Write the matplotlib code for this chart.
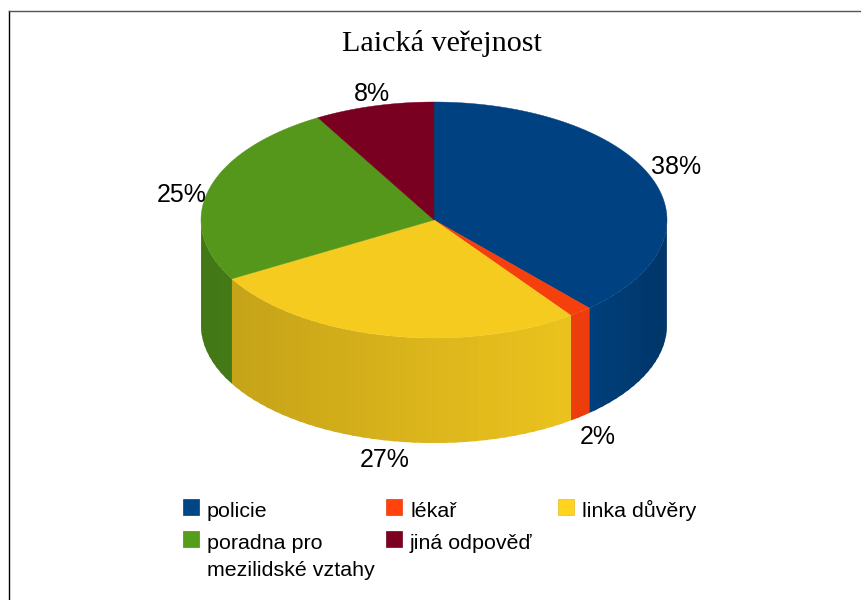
import numpy as np
import matplotlib
matplotlib.use('Agg')
import matplotlib.pyplot as plt
from matplotlib.patches import Rectangle

title = 'Laická veřejnost'
categories = ['policie', 'lékař', 'linka důvěry', 'poradna pro\nmezilidské vztahy', 'jiná odpověď']
values = [38.4, 1.6, 26.7, 25.0, 8.3]
percent_labels = ['38%', '2%', '27%', '25%', '8%']
colors = ['#004586', '#ff420e', '#ffd320', '#579d1c', '#7e0021']

# layout, in pixels of the picture
cx, cy = 434, 220
rx, ry = 233, 118
depth = 105
label_pos = [(676, 167), (598, 437), (385, 460), (182, 195), (372, 94)]
legend_pos = [(183, 499), (386, 499), (558, 499), (183, 531), (386, 531)]
legend_line_step = 27


def darker(color, k):
    r, g, b = matplotlib.colors.to_rgb(color)
    return (r * k, g * k, b * k)


def side_shade(a):
    # a is the clockwise angle from the top, the side is lightest near the front right
    x = np.sin(a)
    if x > 0.65:
        return 0.93 - (x - 0.65) / 0.35 * 0.15
    return 0.93 - (0.65 - x) / 1.65 * 0.17


fig = plt.figure(figsize=(8.61, 6.0), dpi=100)
ax = fig.add_axes([0, 0, 1, 1])
ax.set_xlim(0, 861)
ax.set_ylim(600, 0)
ax.axis('off')

# border of the chart, only top and left are in the picture
ax.plot([8.5, 8.5], [600, 10.5], color='black', lw=1, zorder=1)
ax.plot([8.5, 861], [10.5, 10.5], color='#555555', lw=1, zorder=1)

edges = np.cumsum([0] + values) / sum(values) * 2 * np.pi

# side of the cake, in thin strips for the shading
for i in range(len(values)):
    start = max(edges[i], np.pi / 2)
    stop = min(edges[i + 1], 3 * np.pi / 2)
    if stop <= start:
        continue
    n = max(int((stop - start) / np.radians(2.5)), 1)
    steps = np.linspace(start, stop, n + 1)
    for a0, a1 in zip(steps[:-1], steps[1:]):
        # each strip runs a little under the next one, so no seams show
        t = np.linspace(a0, min(a1 + np.radians(1), stop), 6)
        xs = cx + rx * np.sin(t)
        ys = cy - ry * np.cos(t)
        c = darker(colors[i], side_shade((a0 + a1) / 2))
        ax.fill(np.r_[xs, xs[::-1]], np.r_[ys, ys[::-1] + depth],
                facecolor=c, edgecolor='none', zorder=2)

# top of the cake
for i in range(len(values)):
    t = np.linspace(edges[i], edges[i + 1], 200)
    xs = np.r_[cx, cx + rx * np.sin(t)]
    ys = np.r_[cy, cy - ry * np.cos(t)]
    c = darker(colors[i], 0.96)
    ax.fill(xs, ys, facecolor=c, edgecolor=c, lw=0.3, zorder=3)

for lab, (x, y) in zip(percent_labels, label_pos):
    ax.text(x, y, lab, ha='center', va='center', fontsize=18,
            family='Liberation Sans', color='black', zorder=4)

ax.text(442, 43.5, title, ha='center', va='center', fontsize=21.7,
        family='Liberation Serif', color='black')

# legend, the lines are placed one by one so that they all sit on a baseline
for name, c, (x, y) in zip(categories, colors, legend_pos):
    ax.add_patch(Rectangle((x, y), 16, 16, facecolor=c, edgecolor=darker(c, 0.9), lw=0.5))
    for j, line in enumerate(name.split('\n')):
        ax.text(x + 24, y + 18 + j * legend_line_step, line, ha='left', va='baseline',
                fontsize=15.4, family='Liberation Sans', color='black')

fig.savefig('out.png', dpi=100)
